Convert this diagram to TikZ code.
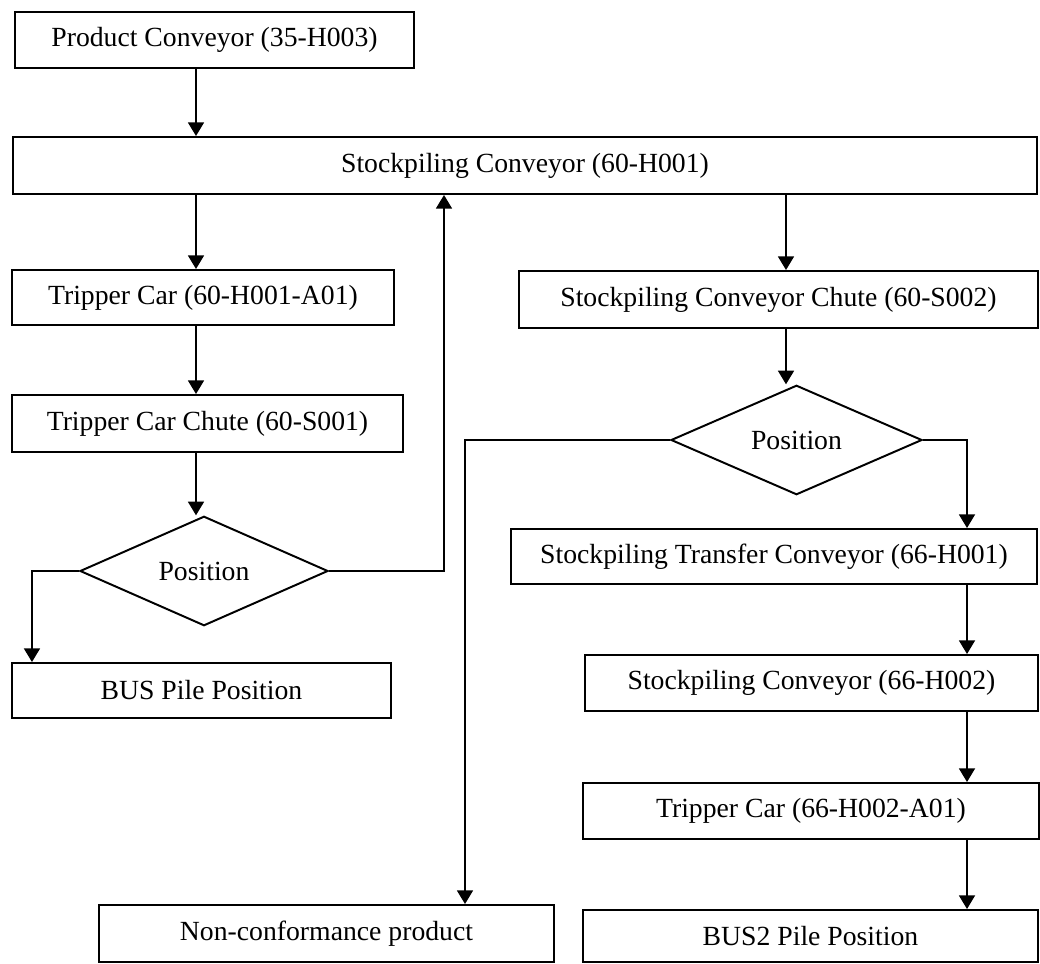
\documentclass[tikz,border=0pt]{standalone}
\usepackage{fontspec}
\setmainfont{Liberation Serif}
\usepackage{tikz}
\usetikzlibrary{arrows.meta,calc,shapes.geometric}

\begin{document}
\begin{tikzpicture}[x=0.025cm,y=-0.025cm,
  font=\fontsize{19.7}{23}\selectfont,
  box/.style={draw,line width=1.4pt,inner sep=0pt},
  decide/.style={draw,diamond,line width=1.4pt,inner sep=0pt},
  arr/.style={line width=1.1pt,-{Triangle[length=3.4mm,width=4mm]}}]
  \useasboundingbox (0,0) rectangle (1040,964);
  % Left branch
  \node[box,minimum width=9.975cm,minimum height=1.4cm] (prod) at (214.5,40) {Product Conveyor (35-H003)};
  \node[box,minimum width=25.6cm,minimum height=1.425cm] (stock) at (525,165.5) {Stockpiling Conveyor (60-H001)};
  \node[box,minimum width=9.55cm,minimum height=1.375cm] (trip) at (203,297.5) {Tripper Car (60-H001-A01)};
  \node[box,minimum width=9.775cm,minimum height=1.425cm] (tchute) at (207.5,423.5) {Tripper Car Chute (60-S001)};
  \node[decide,minimum width=6.2cm,minimum height=2.3cm] (posL) at (204,571) {Position};
  \node[box,minimum width=9.475cm,minimum height=1.375cm] (bus) at (201.5,690.5) {BUS Pile Position};
  % Right branch
  \node[box,minimum width=12.975cm,minimum height=1.425cm] (chute) at (778.5,299.5) {Stockpiling Conveyor Chute (60-S002)};
  \node[decide,minimum width=6.275cm,minimum height=2.35cm] (posR) at (796.5,440) {Position};
  \node[box,minimum width=13.15cm,minimum height=1.375cm] (trans) at (774,556.5) {Stockpiling Transfer Conveyor (66-H001)};
  \node[box,minimum width=11.325cm,minimum height=1.4cm] (sc66) at (811.5,683) {Stockpiling Conveyor (66-H002)};
  \node[box,minimum width=11.4cm,minimum height=1.4cm] (trip66) at (811,811) {Tripper Car (66-H002-A01)};
  \node[box,minimum width=11.375cm,minimum height=1.425cm] (nonconf) at (326.5,933.5) {Non-conformance product};
  \node[box,minimum width=11.375cm,minimum height=1.3cm] (bus2) at (810.5,936) {BUS2 Pile Position};
  % Connector columns
  \coordinate (colL) at (196,0);
  \coordinate (upL) at (444,0);
  \coordinate (midR) at (786,0);
  \coordinate (colR) at (967,0);
  \coordinate (colN) at (465,0);
  % Arrows
  \draw[arr] (prod.south -| colL) -- (stock.north -| colL);
  \draw[arr] (stock.south -| colL) -- (trip.north -| colL);
  \draw[arr] (trip.south -| colL) -- (tchute.north -| colL);
  \draw[arr] (tchute.south -| colL) -- (colL |- posL.north);
  \draw[arr] (posL.west) -| ([xshift=5.25mm]bus.north west);
  \draw[arr] (posL.east) -| (upL |- stock.south);
  \draw[arr] (stock.south -| midR) -- (chute.north -| midR);
  \draw[arr] (chute.south -| midR) -- (midR |- posR.north);
  \draw[arr] (posR.east) -| (colR |- trans.north);
  \draw[arr] (posR.west) -| (colN |- nonconf.north);
  \draw[arr] (trans.south -| colR) -- (sc66.north -| colR);
  \draw[arr] (sc66.south -| colR) -- (trip66.north -| colR);
  \draw[arr] (trip66.south -| colR) -- (bus2.north -| colR);
\end{tikzpicture}
\end{document}
